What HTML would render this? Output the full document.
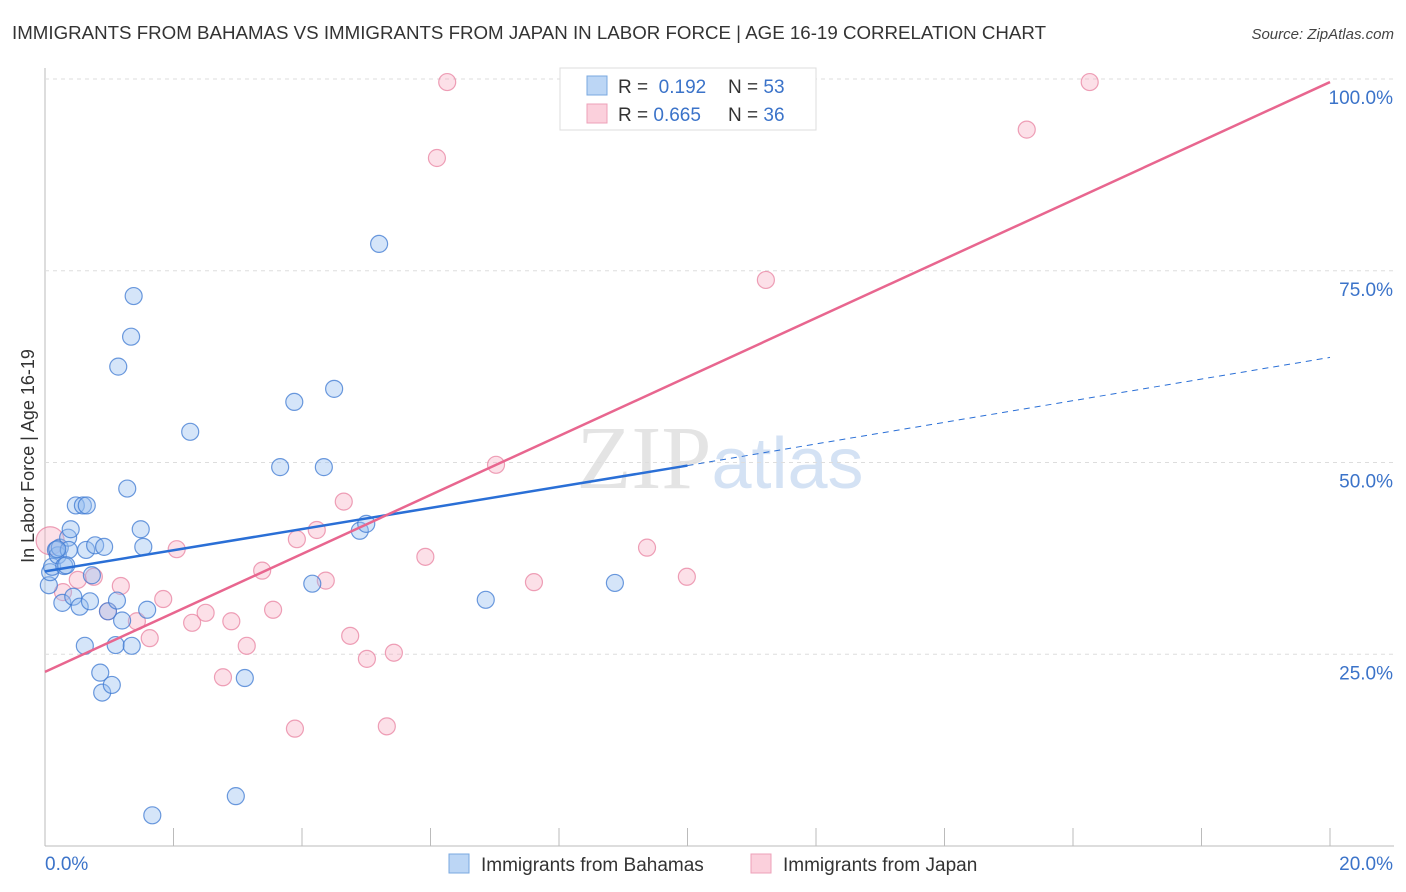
<!DOCTYPE html>
<html><head><meta charset="utf-8"><style>
body{margin:0;background:#fff;font-family:"Liberation Sans",sans-serif;}
#wrap{position:relative;width:1406px;height:892px;overflow:hidden;}
</style></head><body><div id="wrap">
<svg id="svg" width="1406" height="892" xmlns="http://www.w3.org/2000/svg">
<text x="12" y="39" font-size="18" fill="#333" textLength="1034" lengthAdjust="spacingAndGlyphs">IMMIGRANTS FROM BAHAMAS VS IMMIGRANTS FROM JAPAN IN LABOR FORCE | AGE 16-19 CORRELATION CHART</text>
<text x="1394" y="39" font-size="15" fill="#444" font-style="italic" text-anchor="end">Source: ZipAtlas.com</text>
<text x="720" y="488" font-size="90" fill="#e4e4e4" text-anchor="middle" font-family="Liberation Serif,serif">ZIP<tspan fill="#d4e2f4" font-family="Liberation Sans,sans-serif" font-size="72">atlas</tspan></text>
<text transform="translate(34,456) rotate(-90)" font-size="18" fill="#333" text-anchor="middle">In Labor Force | Age 16-19</text>
<g id="grid"></g><g id="pts"></g><g id="lines"></g>
<g>
<rect x="560" y="68" width="256" height="62" fill="#fff" stroke="#ddd"/>
<rect x="587" y="76" width="20" height="19" fill="#bcd6f5" stroke="#7aa8e0"/>
<rect x="587" y="104" width="20" height="19" fill="#fbd0dc" stroke="#eea0b8"/>
<text x="618" y="93" font-size="19" fill="#333">R = <tspan fill="#3b73c9">&#160;0.192</tspan><tspan x="728">N = </tspan><tspan fill="#3b73c9">53</tspan></text>
<text x="618" y="121" font-size="19" fill="#333">R = <tspan fill="#3b73c9">0.665</tspan><tspan x="728">N = </tspan><tspan fill="#3b73c9">36</tspan></text>
</g>
<g>
<rect x="449" y="854" width="20" height="19" fill="#bcd6f5" stroke="#7aa8e0"/>
<text x="481" y="871" font-size="19" fill="#333">Immigrants from Bahamas</text>
<rect x="751" y="854" width="20" height="19" fill="#fbd0dc" stroke="#eea0b8"/>
<text x="783" y="871" font-size="19" fill="#333">Immigrants from Japan</text>
</g>
</svg></div>
<script>
const yTicks=[25,50,75,100];
const xTickLabels=["0.0%","20.0%"];
const bahamasX=[0.06,0.08,0.11,0.17,0.2,0.23,0.3,0.27,0.36,0.37,0.4,0.44,0.48,0.54,0.59,0.65,0.64,0.7,0.73,0.78,0.92,0.98,0.62,0.86,0.89,1.04,1.1,1.12,1.2,1.35,1.28,1.49,1.53,1.59,1.14,1.34,1.38,2.26,3.11,2.97,1.67,3.66,3.88,4.16,4.34,4.5,4.9,5.0,5.2,6.86,8.87,0.19,0.33];
const bahamasY=[34.0,35.7,36.4,38.6,37.9,38.9,36.5,31.7,40.2,38.6,41.3,32.5,44.4,31.2,44.4,44.4,38.6,31.9,35.3,39.2,39.0,30.6,26.1,22.6,20.0,21.0,26.2,32.0,29.4,26.1,46.6,41.3,39.0,30.8,62.5,66.4,71.7,54.0,21.9,6.5,4.0,49.4,57.9,34.2,49.4,59.6,41.1,42.0,78.5,32.1,34.3,38.7,36.6];
const japanX=[0.08,0.28,0.51,0.76,0.98,1.18,1.43,1.63,1.84,2.05,2.29,2.5,2.77,2.9,3.14,3.38,3.55,3.89,3.92,4.23,4.37,4.65,4.75,5.01,5.32,5.43,5.92,6.1,6.26,7.02,7.61,9.37,9.99,11.22,15.28,16.26];
const japanY=[39.8,33.1,34.7,35.1,30.6,33.9,29.3,27.1,32.2,38.7,29.1,30.4,22.0,29.3,26.1,35.9,30.8,15.3,40.0,41.2,34.6,44.9,27.4,24.4,15.6,25.2,37.7,89.7,99.6,49.7,34.4,38.9,35.1,73.8,93.4,99.6];
const blueTrend=[[0,35.8],[10,49.6],[20,63.7]];
const pinkTrend=[[0,22.7],[20,99.6]];
const X=v=>45+v/20*1285, Y=v=>846-v/100*767;
const NS="http://www.w3.org/2000/svg";
function mk(tag,attrs,parent){const e=document.createElementNS(NS,tag);for(const k in attrs)e.setAttribute(k,attrs[k]);document.getElementById(parent).appendChild(e);return e;}
mk('line',{x1:45,y1:68,x2:45,y2:846,stroke:'#bbb'},'grid');
mk('line',{x1:45,y1:846,x2:1394,y2:846,stroke:'#bbb'},'grid');
yTicks.forEach(t=>{const l=mk('line',{x1:45,x2:1394,y1:Y(t),y2:Y(t),stroke:'#ddd','stroke-dasharray':'4,4'},'grid');


const tx=mk('text',{x:1393,y:Y(t)+25,'font-size':19,fill:'#3b73c9','text-anchor':'end'},'grid');tx.textContent=t.toFixed(1)+'%';

});
for(let i=1;i<=10;i++){const l=mk('line',{x1:X(i*2),x2:X(i*2),y1:828,y2:846,stroke:'#bbb'},'grid');

}
const xl0=mk('text',{x:45,y:870,'font-size':19,fill:'#3b73c9'},'grid');xl0.textContent=xTickLabels[0];


const xl1=mk('text',{x:1393,y:870,'font-size':19,fill:'#3b73c9','text-anchor':'end'},'grid');xl1.textContent=xTickLabels[1];


japanX.forEach((x,i)=>{const c=mk('circle',{cx:X(x),cy:Y(japanY[i]),r:i==0?14:8.5,fill:'rgba(246,165,190,0.35)',stroke:'rgba(232,130,160,0.75)','stroke-width':1.2},'pts');

});
bahamasX.forEach((x,i)=>{const c=mk('circle',{cx:X(x),cy:Y(bahamasY[i]),r:8.5,fill:'rgba(150,190,240,0.4)',stroke:'rgba(60,120,210,0.75)','stroke-width':1.2},'pts');

});
const b1=mk('line',{x1:X(blueTrend[0][0]),y1:Y(blueTrend[0][1]),x2:X(blueTrend[1][0]),y2:Y(blueTrend[1][1]),stroke:'#2a6fd6','stroke-width':2.5},'lines');


const b2=mk('line',{x1:X(blueTrend[1][0]),y1:Y(blueTrend[1][1]),x2:X(blueTrend[2][0]),y2:Y(blueTrend[2][1]),stroke:'#2a6fd6','stroke-width':1,'stroke-dasharray':'6,5'},'lines');


const p1=mk('line',{x1:X(pinkTrend[0][0]),y1:Y(pinkTrend[0][1]),x2:X(pinkTrend[1][0]),y2:Y(pinkTrend[1][1]),stroke:'#e8668f','stroke-width':2.5},'lines');


</script></body></html>
